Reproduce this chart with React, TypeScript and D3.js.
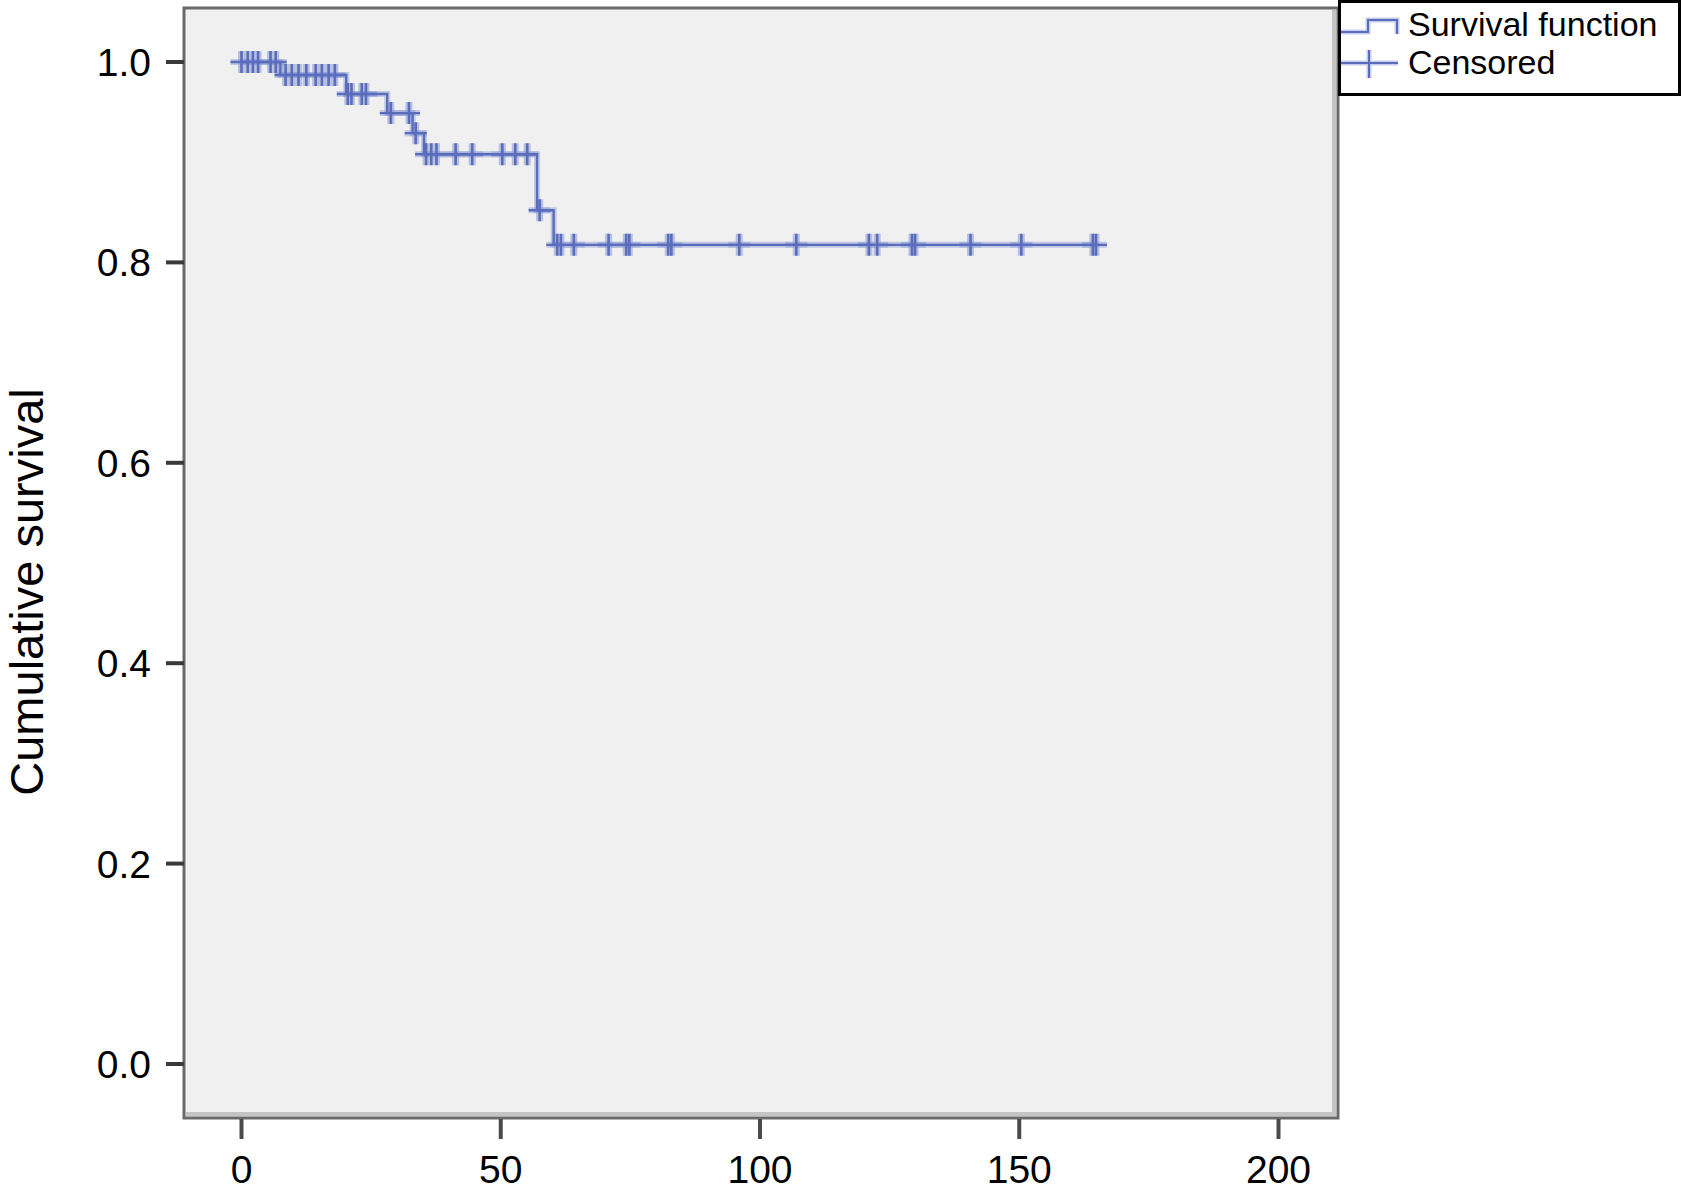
import React from "react";
import * as d3 from "d3";

// ---- data ----
const stepTimes = [7.5, 20.2, 28.1, 33.0, 35.2, 57.0, 60.2];
const stepSurvival = [0.987, 0.968, 0.949, 0.929, 0.908, 0.852, 0.8175];
const censorTimes = [
  0, 1.2, 2.2, 3.2, 5.6, 6.6,
  8.5, 9.7, 11, 12.5, 14.3, 15.5, 16.8, 18,
  20.5, 21.2, 23.2, 24.0,
  28.8, 32.3,
  33.6,
  35.6, 36.6, 37.6, 41.3, 44.5, 50.3, 52.8, 55.1,
  57.5,
  60.9, 61.6, 64.1, 70.8, 74.2, 74.8, 82.3, 82.9, 96, 107, 121, 122.6,
  129.3, 129.9, 140.6, 150.4, 164.2, 164.8,
];
const xTicks = [0, 50, 100, 150, 200];
const yTicks = [0, 0.2, 0.4, 0.6, 0.8, 1.0];
const yTitle = "Cumulative survival";
const legendLabels = ["Survival function", "Censored"];

const W = 1682;
const H = 1192;
const FONT = "'Liberation Sans', Arial, Helvetica, sans-serif";
const CORE = "#5a6dbc";
const HALO = "#8a99d4";

function survivalAt(t: number): number {
  let s = 1;
  for (let i = 0; i < stepTimes.length; i++) {
    if (t >= stepTimes[i]) s = stepSurvival[i];
  }
  return s;
}

export default function App() {
  const frame = { left: 184, top: 8, right: 1338, bottom: 1118 };
  const x = d3.scaleLinear().domain([0, 200]).range([241.5, 1278.5]);
  const y = d3.scaleLinear().domain([0, 1]).range([1064, 62]);

  const tEnd = d3.max(censorTimes) as number;
  const pts: [number, number][] = [[0, 1]];
  stepTimes.forEach((t, i) => pts.push([t, stepSurvival[i]]));
  pts.push([tEnd, survivalAt(tEnd)]);
  const line = d3
    .line<[number, number]>()
    .x((d) => x(d[0]))
    .y((d) => y(d[1]))
    .curve(d3.curveStepAfter);
  const pathD = line(pts) || "";

  const arm = 11;
  const vArm = 11;
  const censorV = censorTimes
    .map((t) => {
      const cx = x(t);
      const cy = y(survivalAt(t));
      return `M${cx},${cy - vArm}V${cy + vArm}`;
    })
    .join("");
  const censorH = censorTimes
    .map((t) => {
      const cx = x(t);
      const cy = y(survivalAt(t));
      return `M${cx - arm},${cy}H${cx + arm}`;
    })
    .join("");

  return (
    <svg
      width={W}
      height={H}
      style={{ position: "absolute", left: 0, top: 0, display: "block", background: "#fff" }}
      fontFamily={FONT}
    >
      {/* plot frame */}
      <rect
        x={frame.left}
        y={frame.top}
        width={frame.right - frame.left}
        height={frame.bottom - frame.top}
        fill="#f0f0f0"
      />
      <path
        d={`M${frame.left + 2},${frame.bottom - 4}H${frame.right - 4}V${frame.top + 2}`}
        fill="none"
        stroke="#c4c4c4"
        strokeWidth={4}
      />
      <rect
        x={frame.left}
        y={frame.top}
        width={frame.right - frame.left}
        height={frame.bottom - frame.top}
        fill="none"
        stroke="#6a6a6a"
        strokeWidth={3}
      />

      {/* y axis ticks & labels */}
      {yTicks.map((v) => (
        <g key={"y" + v}>
          <line x1={166} x2={frame.left} y1={y(v)} y2={y(v)} stroke="#3a3a3a" strokeWidth={4} />
          <text x={151} y={y(v)} dy="0.36em" textAnchor="end" fontSize={39} fill="#000">
            {v.toFixed(1)}
          </text>
        </g>
      ))}

      {/* x axis ticks & labels */}
      {xTicks.map((v) => (
        <g key={"x" + v}>
          <line x1={x(v)} x2={x(v)} y1={frame.bottom + 1} y2={1139} stroke="#4a4a4a" strokeWidth={4} />
          <text x={x(v)} y={1183} textAnchor="middle" fontSize={39} fill="#000">
            {v}
          </text>
        </g>
      ))}

      {/* y axis title */}
      <text
        transform={`translate(43,${592}) rotate(-90)`}
        textAnchor="middle"
        fontSize={47}
        fill="#000"
      >
        {yTitle}
      </text>

      {/* survival curve with soft halo */}
      <path d={pathD} fill="none" stroke={HALO} strokeOpacity={0.45} strokeWidth={6} />
      <path d={censorH} fill="none" stroke={HALO} strokeOpacity={0.45} strokeWidth={6} />
      <path d={censorV} fill="none" stroke={HALO} strokeOpacity={0.55} strokeWidth={7} />
      <path d={pathD} fill="none" stroke={CORE} strokeWidth={2.4} />
      <path d={censorH} fill="none" stroke={CORE} strokeWidth={2.4} />
      <path d={censorV} fill="none" stroke={CORE} strokeWidth={2.6} />

      {/* legend */}
      <rect x={1339.5} y={1.5} width={340} height={93} fill="#fff" stroke="#000" strokeWidth={3} />
      <path d="M1341,32H1368V20H1397V34" fill="none" stroke={HALO} strokeOpacity={0.5} strokeWidth={5} />
      <path d="M1341,32H1368V20H1397V34" fill="none" stroke={CORE} strokeWidth={2} />
      <path d="M1341,63H1398M1369,50V78" fill="none" stroke={HALO} strokeOpacity={0.5} strokeWidth={5} />
      <path d="M1341,63H1398M1369,50V78" fill="none" stroke={CORE} strokeWidth={2} />
      <text x={1408} y={36} fontSize={34} fill="#000">
        {legendLabels[0]}
      </text>
      <text x={1408} y={74} fontSize={34} fill="#000">
        {legendLabels[1]}
      </text>
    </svg>
  );
}
